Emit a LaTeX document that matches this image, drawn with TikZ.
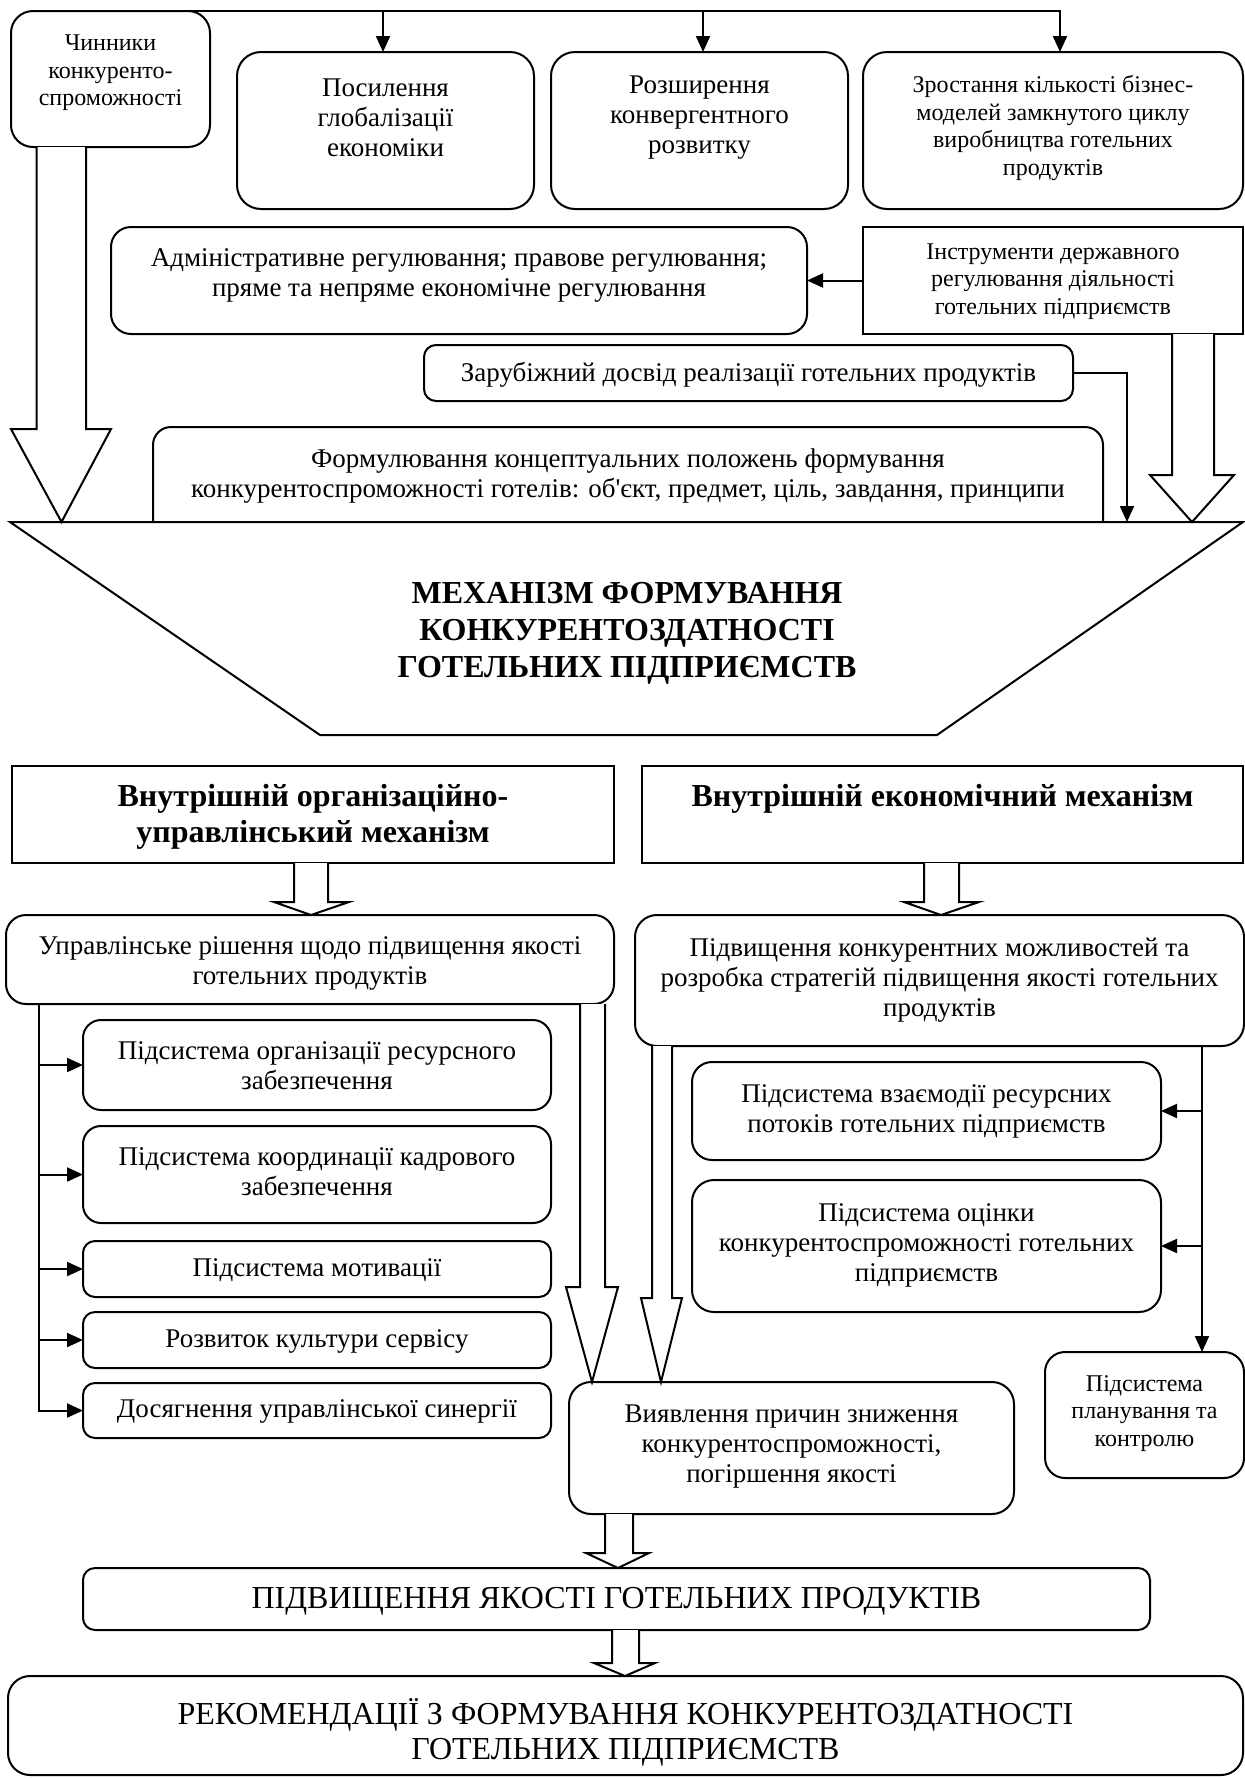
\documentclass[tikz,border=0pt]{standalone}
\usepackage{fontspec}
\setmainfont{Liberation Serif}[Ligatures=TeXOff]
\usetikzlibrary{arrows.meta,fit}
\newcommand\fbody{\fontsize{27}{30}\selectfont}
\newcommand\fsmall{\fontsize{24}{27.5}\selectfont}
\newcommand\fbig{\fontsize{32}{37}\selectfont}
\newcommand\fcap{\fontsize{32}{35}\selectfont}
% hollow block arrow: #1 from anchor, #2 to anchor, #3 shaft left x, #4 shaft right x,
% #5 head start y, #6 head left x, #7 head right x, #8 tip x
\newcommand\harrow[8]{%
  \filldraw[hol] (#3,0 |- #1) -- (#3,#5) -- (#6,#5) -- (#8,0 |- #2) -- (#7,#5) -- (#4,#5) -- (#4,0 |- #1);}
\begin{document}
\begin{tikzpicture}[x=1pt,y=-1pt,
  rbox/.style={draw, line width=2pt, rounded corners=#1, inner sep=0pt, outer sep=0pt},
  rbox/.default=22pt,
  sbox/.style={draw, line width=2pt, inner sep=0pt, outer sep=0pt},
  txt/.style={align=center, inner sep=0pt, font=\fbody},
  stxt/.style={align=center, inner sep=0pt, font=\fsmall},
  btxt/.style={align=center, inner sep=0pt, font=\fbig\bfseries},
  ctxt/.style={align=center, inner sep=0pt, font=\fcap},
  arr/.style={line width=2pt, -{Triangle[length=16pt,width=14pt]}},
  ln/.style={line width=2pt},
  hol/.style={line width=2pt, fill=white, line join=miter},
]
\fill[white] (0,0) rectangle (1245,1778);
\useasboundingbox (0,0) rectangle (1245,1778);

% ---------- top section ----------
\node[rbox=22pt, fit={(11,11) (210,147)}] (chin) {};
\node[stxt] at (110.5,73) {Чинники\\конкуренто-\\спроможності};

\node[rbox=24pt, fit={(237,52) (534,209)}] (pos) {};
\node[txt] at (385.5,118) {Посилення\\глобалізації\\економіки};
\node[rbox=24pt, fit={(551,52) (848,209)}] (roz) {};
\node[txt] at (699.5,118) {Розширення\\конвергентного\\розвитку};
\node[rbox=24pt, fit={(863,52) (1243,209)}] (zr) {};
\node[stxt] at (1053,128) {Зростання кількості бізнес-\\моделей замкнутого циклу\\виробництва готельних\\продуктів};

\draw[arr] (chin.north) -| (1060,0 |- zr.north);
\draw[arr] (383,0 |- chin.north) -- (383,0 |- pos.north);
\draw[arr] (703,0 |- chin.north) -- (703,0 |- roz.north);

\node[rbox=20pt, fit={(111,227) (807,334)}] (adm) {};
\node[txt] at (459,275) {Адміністративне регулювання; правове регулювання;\\пряме та непряме економічне регулювання};
\node[sbox, fit={(863,227) (1243,334)}] (inst) {};
\node[stxt] at (1053,281.5) {Інструменти державного\\регулювання діяльності\\готельних підприємств};
\draw[arr] (inst.west) -- (inst.west -| adm.east);

\node[rbox=12pt, fit={(424,345) (1073,401)}] (zar) {};
\node[txt] at (748.5,375) {Зарубіжний досвід реалізації готельних продуктів};

\node[rbox=18pt, fit={(153,427) (1103,545)}] (form) {};
\node[txt] at (628,476) {Формулювання концептуальних положень формування\\конкурентоспроможності готелів: об'єкт, предмет, ціль, завдання, принципи};

% ---------- central trapezoid ----------
\coordinate (mtop) at (627,522);
\filldraw[ln, fill=white] (10,522) -- (1243,522) -- (937,735) -- (320,735) -- cycle;
\node[btxt] (mech) at (627,633) {МЕХАНІЗМ ФОРМУВАННЯ\\КОНКУРЕНТОЗДАТНОСТІ\\ГОТЕЛЬНИХ ПІДПРИЄМСТВ};

\draw[arr] (zar.east) -| (1127,0 |- mtop);
\harrow{chin.south}{mtop}{36.5}{86}{429}{11}{111}{61.5}
\harrow{inst.south}{mtop}{1172}{1214}{475}{1150}{1234}{1192}

% ---------- lower section ----------
\node[sbox, fit={(12,766) (614,863)}] (hl) {};
\node[btxt, font=\fontsize{32}{36}\selectfont\bfseries] at (313,817) {Внутрішній організаційно-\\управлінський механізм};
\node[sbox, fit={(642,766) (1243,863)}] (hr) {};
\node[btxt] at (942.5,799) {Внутрішній економічний механізм};

\node[rbox=20pt, fit={(6,915) (614,1004)}] (upr) {};
\node[txt] at (310,963) {Управлінське рішення щодо підвищення якості\\готельних продуктів};
\harrow{hl.south}{upr.north}{294}{328}{902}{274}{349}{311}

\node[rbox=22pt, fit={(635,915) (1244,1046)}] (pk) {};
\node[txt] at (939.5,980) {Підвищення конкурентних можливостей та\\розробка стратегій підвищення якості готельних\\продуктів};
\harrow{hr.south}{pk.north}{924}{959}{902}{904}{979}{941}

\node[rbox=18pt, fit={(83,1020) (551,1110)}] (s1) {};
\node[txt] at (317,1066) {Підсистема організації ресурсного\\забезпечення};
\node[rbox=18pt, fit={(83,1126) (551,1223)}] (s2) {};
\node[txt] at (317,1172) {Підсистема координації кадрового\\забезпечення};
\node[rbox=12pt, fit={(83,1241) (551,1297)}] (s3) {};
\node[txt] at (317,1270) {Підсистема мотивації};
\node[rbox=12pt, fit={(83,1312) (551,1368)}] (s4) {};
\node[txt] at (317,1341) {Розвиток культури сервісу};
\node[rbox=12pt, fit={(83,1383) (551,1438)}] (s5) {};
\node[txt] at (317,1411.5) {Досягнення управлінської синергії};

\draw[arr] (38.5,0 |- upr.south) |- (s5.west);
\foreach \s in {s1,s2,s3,s4}{\draw[arr] (38.5,0 |- \s.west) -- (\s.west);}

\node[rbox=20pt, fit={(692,1062) (1161,1160)}] (vz) {};
\node[txt] at (926.5,1111) {Підсистема взаємодії ресурсних\\потоків готельних підприємств};
\node[rbox=22pt, fit={(692,1180) (1161,1312)}] (ot) {};
\node[txt] at (926.5,1245) {Підсистема оцінки\\конкурентоспроможності готельних\\підприємств};
\node[rbox=20pt, fit={(1045,1352) (1244,1478)}] (pl) {};
\node[stxt] at (1144.5,1413.5) {Підсистема\\планування та\\контролю};

\draw[arr] (1202,0 |- pk.south) -- (1202,0 |- pl.north);
\draw[arr] (1202,0 |- vz.east) -- (vz.east);
\draw[arr] (1202,0 |- ot.east) -- (ot.east);

\node[rbox=22pt, fit={(569,1382) (1014,1514)}] (vy) {};
\node[txt] at (791.5,1446.5) {Виявлення причин зниження\\конкурентоспроможності,\\погіршення якості};

\harrow{upr.south}{vy.north}{580}{605}{1287}{566}{618}{592}
\harrow{pk.south}{vy.north}{652}{672}{1298}{641}{682}{661}

\node[rbox=12pt, fit={(83,1568) (1150,1630)}] (pq) {};
\node[ctxt] at (616.5,1601) {ПІДВИЩЕННЯ ЯКОСТІ ГОТЕЛЬНИХ ПРОДУКТІВ};
\harrow{vy.south}{pq.north}{605}{633}{1553}{586}{649}{618}

\node[rbox=22pt, fit={(8,1676) (1243,1775)}] (rec) {};
\node[ctxt] at (625.5,1732) {РЕКОМЕНДАЦІЇ З ФОРМУВАННЯ КОНКУРЕНТОЗДАТНОСТІ\\ГОТЕЛЬНИХ ПІДПРИЄМСТВ};
\harrow{pq.south}{rec.north}{612}{639}{1663}{594}{655}{625}
\end{tikzpicture}
\end{document}
